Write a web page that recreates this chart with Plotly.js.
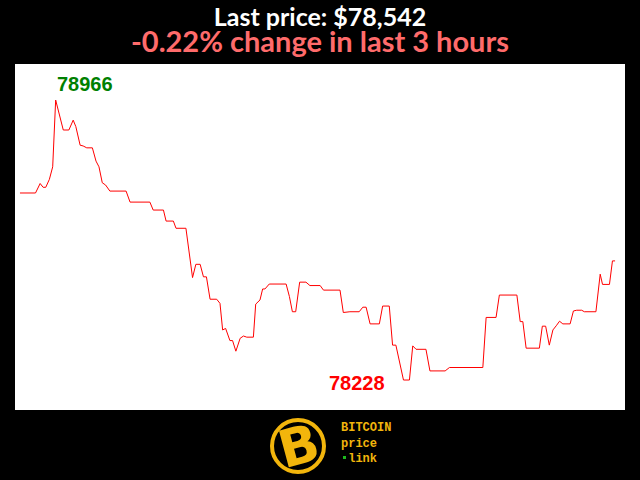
<!DOCTYPE html>
<html>
<head>
<meta charset="utf-8">
<script src="https://cdn.plot.ly/plotly-3.0.1.min.js"></script>
<style>html,body{margin:0;padding:0;background:#000;}#chart{width:640px;height:480px;}</style>
</head>
<body>
<div id="chart"></div>
<script>
// minutes since start of the 3-hour window
const minutes = [0,4.7,6.1,7.0,7.8,8.9,9.9,10.8,13.1,14.8,16.1,16.9,18.2,19.1,20.2,21.9,23.0,23.9,24.9,25.9,27.2,32.1,33.3,39.3,40.3,43.4,44.2,46.4,47.2,50.2,52.2,53.2,54.5,55.5,56.4,57.5,59.5,60.5,61.3,62.2,63.5,64.3,65.3,66.6,67.6,68.6,70.6,71.3,72.6,73.4,74.1,75.4,80.5,81.5,82.4,83.4,84.6,86.5,87.7,90.8,91.8,96.8,97.8,99.8,102.6,103.7,104.7,105.9,108.7,109.7,111.7,112.7,113.7,116.0,117.8,118.8,119.8,122.8,124.0,128.6,129.9,140.0,141.0,144.0,145.0,150.3,151.3,152.1,153.1,157.1,158.0,159.0,160.1,161.2,162.2,163.2,164.2,166.4,167.4,168.4,169.9,170.7,174.2,175.5,176.2,178.3,179.2,180.0];
const prices = [78721,78721,78746,78736,78736,78757,78790,78966,78887,78887,78913,78896,78847,78845,78840,78840,78805,78790,78748,78742,78726,78726,78697,78697,78676,78676,78647,78647,78628,78628,78498,78533,78533,78500,78500,78441,78441,78430,78360,78364,78332,78332,78304,78338,78344,78341,78341,78428,78439,78468,78468,78481,78481,78448,78408,78408,78486,78486,78477,78477,78465,78465,78406,78408,78408,78420,78420,78376,78376,78423,78423,78320,78320,78228,78228,78318,78309,78309,78252,78252,78261,78261,78393,78393,78452,78452,78382,78382,78312,78312,78370,78370,78320,78360,78371,78383,78376,78376,78410,78412,78412,78408,78408,78507,78480,78480,78542,78542];

const titleText = "Last price: $78,542";
const subtitleText = "-0.22% change in last 3 hours";
const logoWords = ["BITCOIN", "price", "link"];

const maxVal = Math.max(...prices);
const minVal = Math.min(...prices);
const maxIdx = prices.indexOf(maxVal);
const minIdx = prices.indexOf(minVal);

const gold = "#f2b50c";
const fontMain = "Lato, 'Open Sans', sans-serif";

const trace = {
  x: minutes, y: prices, type: "scatter", mode: "lines",
  line: {color: "#ff0000", width: 1}, hoverinfo: "skip"
};

const layout = {
  width: 640, height: 480,
  paper_bgcolor: "#000", plot_bgcolor: "#fff",
  margin: {l: 15, r: 15, t: 64, b: 70},
  showlegend: false,
  xaxis: {range: [-1.5, 183.0], visible: false, fixedrange: true},
  yaxis: {range: [78149, 79061], visible: false, fixedrange: true},
  title: {
    text: "<span style='font-size:25px'><b>" + titleText + "</b></span><br>" +
          "<span style='font-size:29px;color:#ff6b6b'><b>" + subtitleText + "</b></span>",
    x: 0.5, xanchor: "center", y: 1 - 26/480, yanchor: "middle",
    font: {family: fontMain, size: 20, color: "#ffffff"}
  },
  annotations: [
    {x: minutes[maxIdx], y: maxVal, xanchor: "center", yanchor: "middle", xshift: 29, yshift: 16,
     text: "<b>" + maxVal + "</b>", showarrow: false,
     font: {family: "'Liberation Sans', Arial, sans-serif", size: 20, color: "#008000"}},
    {x: minutes[minIdx], y: minVal, xanchor: "center", yanchor: "middle", xshift: -46, yshift: -3,
     text: "<b>" + minVal + "</b>", showarrow: false,
     font: {family: "'Liberation Sans', Arial, sans-serif", size: 20, color: "#ff0000"}},
    // logo "B"
    {xref: "paper", yref: "paper", x: (299 - 15) / 610, y: (410 - 446) / 346, xanchor: "center", yanchor: "middle",
     text: "<b>B</b>", showarrow: false, textangle: -15,
     font: {family: "'DejaVu Sans', sans-serif", size: 52, color: gold}},
    {xref: "paper", yref: "paper", x: (340 - 15) / 610, y: (410 - 443) / 346, xanchor: "left", yanchor: "middle",
     align: "left", borderpad: 0,
     text: "<b>" + logoWords[0] + "<br>" + logoWords[1] + "<br>&nbsp;" + logoWords[2] + "</b>", showarrow: false,
     font: {family: "'Liberation Mono', 'DejaVu Sans Mono', monospace", size: 12, color: gold}}
  ],
  shapes: [
    {type: "circle", xref: "paper", yref: "paper",
     x0: (272 - 15) / 610, x1: (324 - 15) / 610, y0: (410 - 472) / 346, y1: (410 - 420) / 346,
     line: {color: gold, width: 4}, fillcolor: "rgba(0,0,0,0)"},
    {type: "rect", xref: "paper", yref: "paper",
     x0: (343 - 15) / 610, x1: (346 - 15) / 610, y0: (410 - 459) / 346, y1: (410 - 456) / 346,
     line: {width: 0}, fillcolor: "#1db91d"}
  ]
};

Plotly.newPlot("chart", [trace], layout, {displayModeBar: false, staticPlot: true});
</script>
</body>
</html>
